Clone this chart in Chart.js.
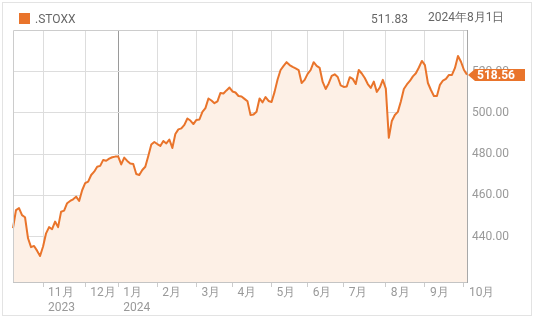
<!DOCTYPE html>
<html>
<head>
<meta charset="utf-8">
<script src="https://cdn.jsdelivr.net/npm/chart.js@4.4.1/dist/chart.umd.min.js"></script>
<style>
  html, body { margin: 0; padding: 0; background: #fff; }
  #wrap { position: relative; width: 539px; height: 322px; font-family: Roboto, sans-serif; }
  #frame { position: absolute; left: 2px; top: 2px; width: 528px; height: 312px; border: 1px solid #e3e3e3; }
  #c { position: absolute; left: 0; top: 0; }
  .sw { position: absolute; left: 19px; top: 13px; width: 11px; height: 11px; background: #e9742b; }
  .txt { position: absolute; font-size: 12px; line-height: 16px; color: #666; white-space: nowrap; }
</style>
</head>
<body>
<div id="wrap">
  <div id="frame"></div>
  <canvas id="c" width="539" height="322"></canvas>
  <div class="sw"></div>
  <div class="txt" style="left:35px; top:11px;">.STOXX</div>
  <div class="txt" style="left:371px; top:11px;">511.83</div>
  <div class="txt" style="left:428px; top:9px;">2024年8月1日</div>
</div>
<script>
// daily closes (about one point per trading day pair)
const closes = [
  444.1, 452.9, 453.8, 450.4, 449.4, 439.2, 434.9, 435.5, 433.2, 430.6,
  435.2, 441.6, 444.6, 443.6, 447.3, 444.6, 452.1, 452.6, 456.2, 457.3,
  458.1, 459.4, 457.3, 462.5, 465.9, 466.7, 469.9, 471.5, 473.9, 474.3,
  477.2, 476.8, 477.8, 478.5, 478.8, 478.8, 475.0, 478.3, 476.7, 475.5,
  475.2, 470.4, 469.9, 472.3, 473.9, 479.1, 484.7, 485.9, 484.9, 484.0,
  486.4, 485.2, 487.1, 483.0, 489.8, 492.0, 492.5, 494.2, 497.3, 496.3,
  494.6, 496.6, 496.8, 500.5, 502.3, 507.0, 506.0, 504.7, 505.6, 509.7,
  509.4, 510.9, 512.3, 510.4, 509.9, 508.2, 508.0, 506.8, 505.6, 499.0,
  499.2, 500.6, 507.0, 505.1, 507.7, 505.8, 505.3, 510.2, 516.2, 520.8,
  522.8, 524.6, 523.2, 522.3, 521.6, 520.8, 514.5, 516.0, 518.9, 520.8,
  524.6, 522.8, 521.8, 515.0, 511.6, 514.3, 517.9, 518.7, 517.4, 513.3,
  512.6, 512.8, 517.3, 516.5, 514.0, 520.8, 519.1, 516.9, 514.0, 512.1,
  515.2, 510.2, 512.3, 516.0, 511.8, 487.9, 496.1, 499.0, 500.5, 505.5,
  511.6, 513.8, 515.5, 517.7, 519.2, 522.0, 525.2, 523.2, 514.5, 511.1,
  508.2, 508.2, 513.6, 515.7, 516.5, 518.4, 518.4, 521.8, 527.6, 524.8,
  520.8, 518.56
];

// first point of each month and its label
const monthTickIndex = [10, 24, 35, 48, 61, 73, 86, 98, 110, 124, 137, 150];
const monthTickLabels = [['11月', '2023'], '12月', ['1月', '2024'], '2月', '3月', '4月',
  '5月', '6月', '7月', '8月', '9月', '10月'];
const yTicks = [440, 460, 480, 500, 520];

const lineColor = '#e9742b';
const fillColor = '#fdf0e6';

const frame = {
  id: 'frame',
  afterDraw(chart) {
    const { ctx, chartArea: a } = chart;
    ctx.save();
    ctx.strokeStyle = '#cccccc';
    ctx.lineWidth = 1;
    ctx.beginPath();
    ctx.moveTo(a.left + 0.5, a.bottom);
    ctx.lineTo(a.left + 0.5, a.top + 0.5);
    ctx.lineTo(a.right, a.top + 0.5);
    ctx.stroke();
    ctx.restore();
  }
};

const badge = {
  id: 'badge',
  afterDraw(chart) {
    const { ctx, chartArea, scales } = chart;
    const last = closes[closes.length - 1];
    const y = Math.round(scales.y.getPixelForValue(last));
    const x0 = chartArea.right + 1;
    ctx.save();
    ctx.fillStyle = lineColor;
    ctx.beginPath();
    ctx.moveTo(x0, y);
    ctx.lineTo(x0 + 7, y - 6);
    ctx.lineTo(x0 + 57, y - 6);
    ctx.lineTo(x0 + 57, y + 6);
    ctx.lineTo(x0 + 7, y + 6);
    ctx.closePath();
    ctx.fill();
    ctx.fillStyle = '#fff';
    ctx.font = 'bold 12px Roboto';
    ctx.textBaseline = 'middle';
    ctx.fillText(last.toFixed(2), x0 + 9, y + 0.5);
    ctx.restore();
  }
};

Chart.defaults.font.family = 'Roboto';

new Chart(document.getElementById('c'), {
  type: 'line',
  data: {
    labels: closes.map((_, i) => i),
    datasets: [{
      data: closes,
      borderColor: lineColor,
      borderWidth: 2,
      borderJoinStyle: 'round',
      backgroundColor: fillColor,
      fill: 'start',
      pointRadius: 0,
      tension: 0
    }]
  },
  options: {
    responsive: false,
    animation: false,
    layout: { padding: { left: 13, top: 30, right: 0, bottom: 0 } },
    plugins: { legend: { display: false }, tooltip: { enabled: false } },
    scales: {
      x: {
        type: 'category',
        offset: false,
        afterBuildTicks: s => { s.ticks = monthTickIndex.map(v => ({ value: v })); },
        afterFit: s => { s.height = 40; },
        grid: {
          color: ctx => ctx.index === 2 ? '#9a9a9a' : '#dddddd',
          tickColor: '#cccccc',
          tickLength: 5
        },
        border: { color: '#c4c4c4' },
        ticks: {
          autoSkip: false,
          maxRotation: 0,
          align: 'start',
          labelOffset: 5,
          padding: -2,
          color: '#999',
          font: { size: 12, lineHeight: 1.25 },
          callback: (v, i) => monthTickLabels[i]
        }
      },
      y: {
        position: 'right',
        min: 418,
        max: 540.2,
        afterBuildTicks: s => { s.ticks = yTicks.map(v => ({ value: v })); },
        afterFit: s => { s.width = 72; },
        grid: { color: '#dddddd', drawTicks: false },
        border: { color: '#a8a8a8' },
        ticks: {
          padding: 5,
          color: '#999',
          font: { size: 12 },
          callback: v => v.toFixed(2)
        }
      }
    }
  },
  plugins: [frame, badge]
});
</script>
</body>
</html>
